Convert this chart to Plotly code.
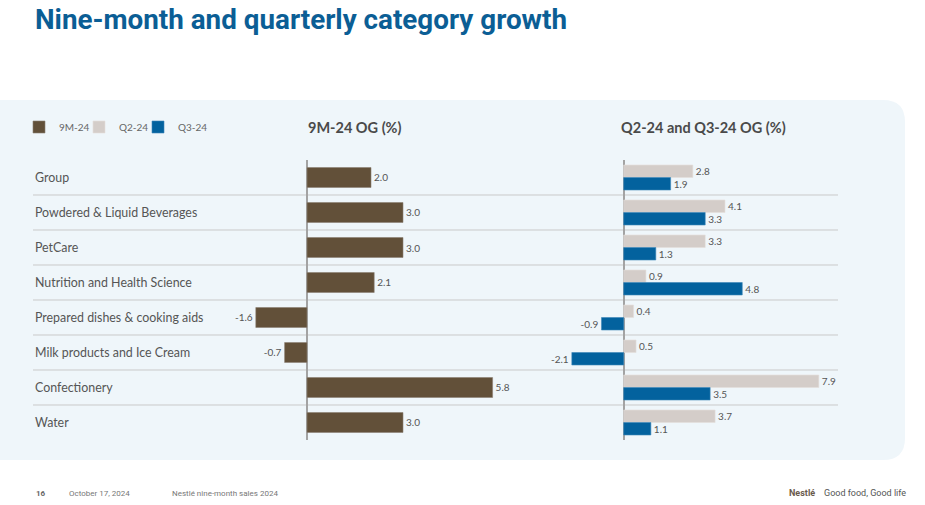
import plotly.graph_objects as go

# ---------------- data ----------------
categories = [
    "Group",
    "Powdered & Liquid Beverages",
    "PetCare",
    "Nutrition and Health Science",
    "Prepared dishes & cooking aids",
    "Milk products and Ice Cream",
    "Confectionery",
    "Water",
]
og_9m = [2.0, 3.0, 3.0, 2.1, -1.6, -0.7, 5.8, 3.0]
og_q2 = [2.8, 4.1, 3.3, 0.9, 0.4, 0.5, 7.9, 3.7]
og_q3 = [1.9, 3.3, 1.3, 4.8, -0.9, -2.1, 3.5, 1.1]
series_names = ["9M-24", "Q2-24", "Q3-24"]

title_text = "Nine-month and quarterly category growth"
left_title = "9M-24 OG (%)"
right_title = "Q2-24 and Q3-24 OG (%)"
footer_page = "16"
footer_date = "October 17, 2024"
footer_doc = "Nestlé nine-month sales 2024"

# ---------------- layout helpers ----------------
W, H = 925, 505


def px(x):
    return x / W


def py(y):
    return 1 - y / H


C_9M = "#625039"
C_Q2 = "#D4CDC9"
C_Q3 = "#03629E"
TXT = "#555555"
FONT = "Lato"

fig = go.Figure()

fig.add_trace(go.Bar(
    name=series_names[0], x=og_9m, y=categories, orientation="h",
    xaxis="x", yaxis="y", width=0.57, legend="legend",
    marker=dict(color=C_9M, line=dict(color="#8c8074", width=0.6)),
    text=[f"{v:.1f}" for v in og_9m], textposition="outside",
    textfont=dict(family=FONT, size=10, color=TXT),
    constraintext="none", cliponaxis=False, hoverinfo="x+y",
))
fig.add_trace(go.Bar(
    name=series_names[1], x=og_q2, y=categories, orientation="h",
    xaxis="x2", yaxis="y", width=0.357, offset=-0.357, legend="legend2",
    marker=dict(color=C_Q2, line=dict(color="#e4dfdc", width=0.6)),
    text=[f"{v:.1f}" for v in og_q2], textposition="outside",
    textfont=dict(family=FONT, size=10, color=TXT),
    constraintext="none", cliponaxis=False, hoverinfo="x+y",
))
fig.add_trace(go.Bar(
    name=series_names[2], x=og_q3, y=categories, orientation="h",
    xaxis="x2", yaxis="y", width=0.357, offset=0.0, legend="legend3",
    marker=dict(color=C_Q3, line=dict(color="#3d86b8", width=0.6)),
    text=[f"{v:.1f}" for v in og_q3], textposition="outside",
    textfont=dict(family=FONT, size=10, color=TXT),
    constraintext="none", cliponaxis=False, hoverinfo="x+y",
))

# axes: left zero at x=307px (32 px/unit), right zero at 623.7px (24.7 px/unit)
lx0, lx1, lzero, lscale = 200, 530, 307, 32.0
rx0, rx1, rzero, rscale = 560, 860, 623.7, 24.7

axis_common = dict(showgrid=False, showticklabels=False, ticks="", showline=False,
                   zeroline=True, zerolinecolor="#a3a3a3", zerolinewidth=1.5,
                   fixedrange=True)

shapes = []
# background panel with rounded right corners
rxp, ryp = 22 / W, 22 / H
x0p, x1p = -0.02, px(905)
ytp, ybp = py(100), py(460)
panel_path = (f"M {x0p},{ytp} L {x1p - rxp},{ytp} Q {x1p},{ytp} {x1p},{ytp - ryp} "
              f"L {x1p},{ybp + ryp} Q {x1p},{ybp} {x1p - rxp},{ybp} L {x0p},{ybp} Z")
shapes.append(dict(type="path", path=panel_path, xref="paper", yref="paper",
                   fillcolor="#EFF6FA", line=dict(width=0), layer="below"))
# row separators
for k in range(len(categories) - 1):
    shapes.append(dict(type="line", xref="paper", yref="y",
                       x0=px(33), x1=px(838), y0=k + 0.5, y1=k + 0.5,
                       line=dict(color="#c9c9c9", width=1), layer="below"))

annotations = []
# category labels
for c in categories:
    annotations.append(dict(text=c, x=px(33), y=c, xref="paper", yref="y",
                            xanchor="left", yanchor="middle", showarrow=False,
                            font=dict(family=FONT, size=12.4, color=TXT)))
# titles
annotations.append(dict(text=f"<b>{title_text}</b>", x=px(33), y=py(19),
                        xref="paper", yref="paper", xanchor="left", yanchor="middle",
                        showarrow=False,
                        font=dict(family="Roboto", size=27.8, color="#0B5E95")))
annotations.append(dict(text=f"<b>{left_title}</b>", x=px(306), y=py(127),
                        xref="paper", yref="paper", xanchor="left", yanchor="middle",
                        showarrow=False, font=dict(family=FONT, size=14.5, color="#4a4a4a")))
annotations.append(dict(text=f"<b>{right_title}</b>", x=px(619), y=py(127),
                        xref="paper", yref="paper", xanchor="left", yanchor="middle",
                        showarrow=False, font=dict(family=FONT, size=14.5, color="#4a4a4a")))
# footer
annotations.append(dict(text=f"<b>{footer_page}</b>", x=px(34), y=py(493),
                        xref="paper", yref="paper", xanchor="left", yanchor="middle",
                        showarrow=False, font=dict(family="Roboto", size=8, color="#666666")))
annotations.append(dict(text=footer_date, x=px(67), y=py(493),
                        xref="paper", yref="paper", xanchor="left", yanchor="middle",
                        showarrow=False, font=dict(family="Roboto", size=8, color="#777777")))
annotations.append(dict(text=footer_doc, x=px(170), y=py(493),
                        xref="paper", yref="paper", xanchor="left", yanchor="middle",
                        showarrow=False, font=dict(family="Roboto", size=8, color="#777777")))
annotations.append(dict(text="<b>Nestlé</b>", x=px(787), y=py(493),
                        xref="paper", yref="paper", xanchor="left", yanchor="middle",
                        showarrow=False, font=dict(family="Roboto", size=9, color="#6a5a4c")))
annotations.append(dict(text="Good food, Good life", x=px(822), y=py(493),
                        xref="paper", yref="paper", xanchor="left", yanchor="middle",
                        showarrow=False, font=dict(family="Roboto", size=9, color="#555555")))

legend_common = dict(orientation="h", yanchor="middle", bgcolor="rgba(0,0,0,0)",
                     font=dict(family=FONT, size=10, color="#666666"),
                     itemwidth=30, itemclick=False, itemdoubleclick=False)

fig.update_layout(
    width=W, height=H,
    margin=dict(l=0, r=0, t=0, b=0),
    paper_bgcolor="white", plot_bgcolor="rgba(0,0,0,0)",
    barmode="overlay",
    xaxis=dict(domain=[px(lx0), px(lx1)],
               range=[(lx0 - lzero) / lscale, (lx1 - lzero) / lscale],
               anchor="y", **axis_common),
    xaxis2=dict(domain=[px(rx0), px(rx1)],
                range=[(rx0 - rzero) / rscale, (rx1 - rzero) / rscale],
                anchor="y", **axis_common),
    yaxis=dict(domain=[py(440), py(160)], range=[len(categories) - 0.5, -0.5],
               type="category", showgrid=False, showticklabels=False, ticks="",
               zeroline=False, showline=False, fixedrange=True, anchor="x"),
    showlegend=True,
    legend=dict(x=px(19), y=py(127), xanchor="left", **legend_common),
    legend2=dict(x=px(79), y=py(127), xanchor="left", **legend_common),
    legend3=dict(x=px(138), y=py(127), xanchor="left", **legend_common),
    shapes=shapes,
    annotations=annotations,
)

fig.write_html("out.html", config={"displayModeBar": False},
               post_script="document.body.style.margin='0';")
